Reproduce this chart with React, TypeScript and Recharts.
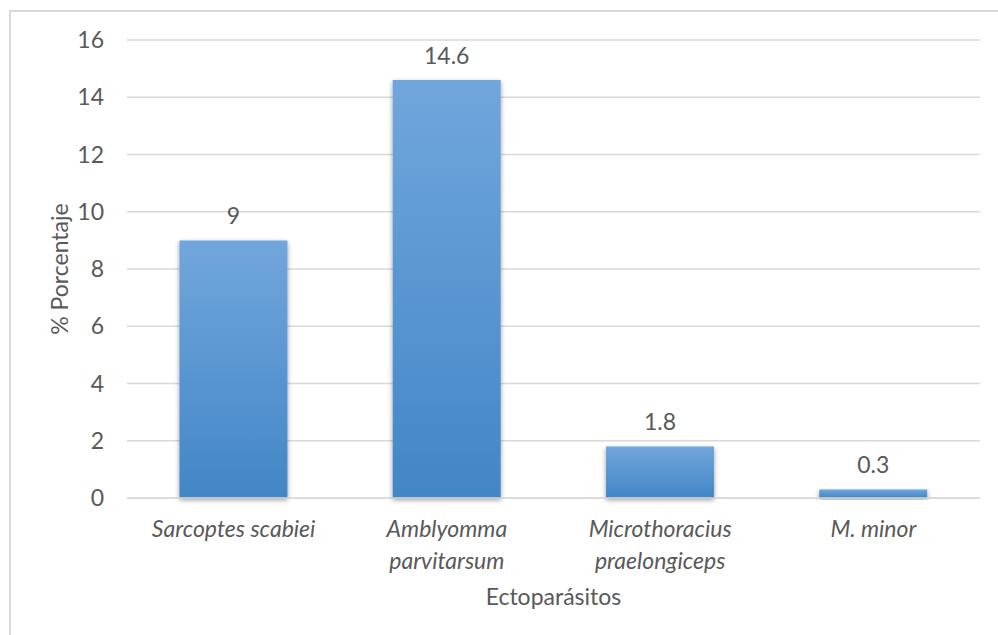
import React from "react";
import {
  BarChart,
  Bar,
  XAxis,
  YAxis,
  CartesianGrid,
  LabelList,
} from "recharts";

const categories = [
  "Sarcoptes scabiei",
  "Amblyomma\nparvitarsum",
  "Microthoracius\npraelongiceps",
  "M. minor",
];
const values = [9, 14.6, 1.8, 0.3];
const yTicks = [0, 2, 4, 6, 8, 10, 12, 14, 16];

const data = categories.map((name, i) => ({ name, value: values[i] }));

const FONT = "Lato, 'Open Sans', sans-serif";
const TEXT = "#595959";
const FS = 23;

const CategoryTick = (props: any) => {
  const { x, y, payload } = props;
  const lines = String(payload.value).split("\n");
  return (
    <text
      x={x}
      y={y}
      textAnchor="middle"
      fill={TEXT}
      fontFamily={FONT}
      fontSize={FS}
      fontStyle="italic"
    >
      {lines.map((l, i) => (
        <tspan key={i} x={x} dy={i === 0 ? 31 : 32}>
          {l}
        </tspan>
      ))}
    </text>
  );
};

const App = () => {
  return (
    <div style={{ position: "absolute", left: 0, top: 0, width: 998, height: 635, background: "#fff", overflow: "hidden" }}>
      <div
        style={{
          position: "absolute",
          left: 9,
          top: 10,
          width: 1000,
          height: 640,
          border: "2px solid #d9d9d9",
          boxSizing: "border-box",
        }}
      />
      <div style={{ position: "absolute", left: 0, top: 0 }}>
        <BarChart
          width={998}
          height={635}
          data={data}
          margin={{ top: 40, right: 18, left: 47, bottom: 22 }}
          barCategoryGap="24.6%"
        >
          <defs>
            <linearGradient id="barFill" x1="0" y1="0" x2="0" y2="1">
              <stop offset="0%" stopColor="#71a6dc" />
              <stop offset="100%" stopColor="#4286c6" />
            </linearGradient>
            <filter id="barShadow" x="-10%" y="-10%" width="120%" height="130%">
              <feDropShadow dx="0" dy="2" stdDeviation="2.5" floodColor="#000" floodOpacity="0.4" />
            </filter>
          </defs>
          <CartesianGrid vertical={false} stroke="#d9d9d9" strokeWidth={1.5} />
          <XAxis
            dataKey="name"
            axisLine={{ stroke: "#d9d9d9", strokeWidth: 1.5 }}
            tickLine={false}
            interval={0}
            tick={<CategoryTick />}
            height={115}
            label={{
              value: "Ectoparásitos",
              position: "insideBottom",
              offset: 8,
              fill: TEXT,
              fontFamily: FONT,
              fontSize: FS,
            }}
          />
          <YAxis
            domain={[0, 16]}
            ticks={yTicks}
            width={80}
            axisLine={false}
            tickLine={false}
            tickSize={0}
            tickMargin={23}
            tick={{ fill: TEXT, fontFamily: FONT, fontSize: FS }}
            label={{
              value: "% Porcentaje",
              angle: -90,
              position: "insideLeft",
              offset: 13,
              style: { textAnchor: "middle" },
              fill: TEXT,
              fontFamily: FONT,
              fontSize: FS,
            }}
          />
          <Bar
            dataKey="value"
            fill="url(#barFill)"
            filter="url(#barShadow)"
            isAnimationActive={false}
          >
            <LabelList
              dataKey="value"
              position="top"
              offset={16}
              fill={TEXT}
              fontFamily={FONT}
              fontSize={FS}
            />
          </Bar>
        </BarChart>
      </div>
    </div>
  );
};

export default App;
